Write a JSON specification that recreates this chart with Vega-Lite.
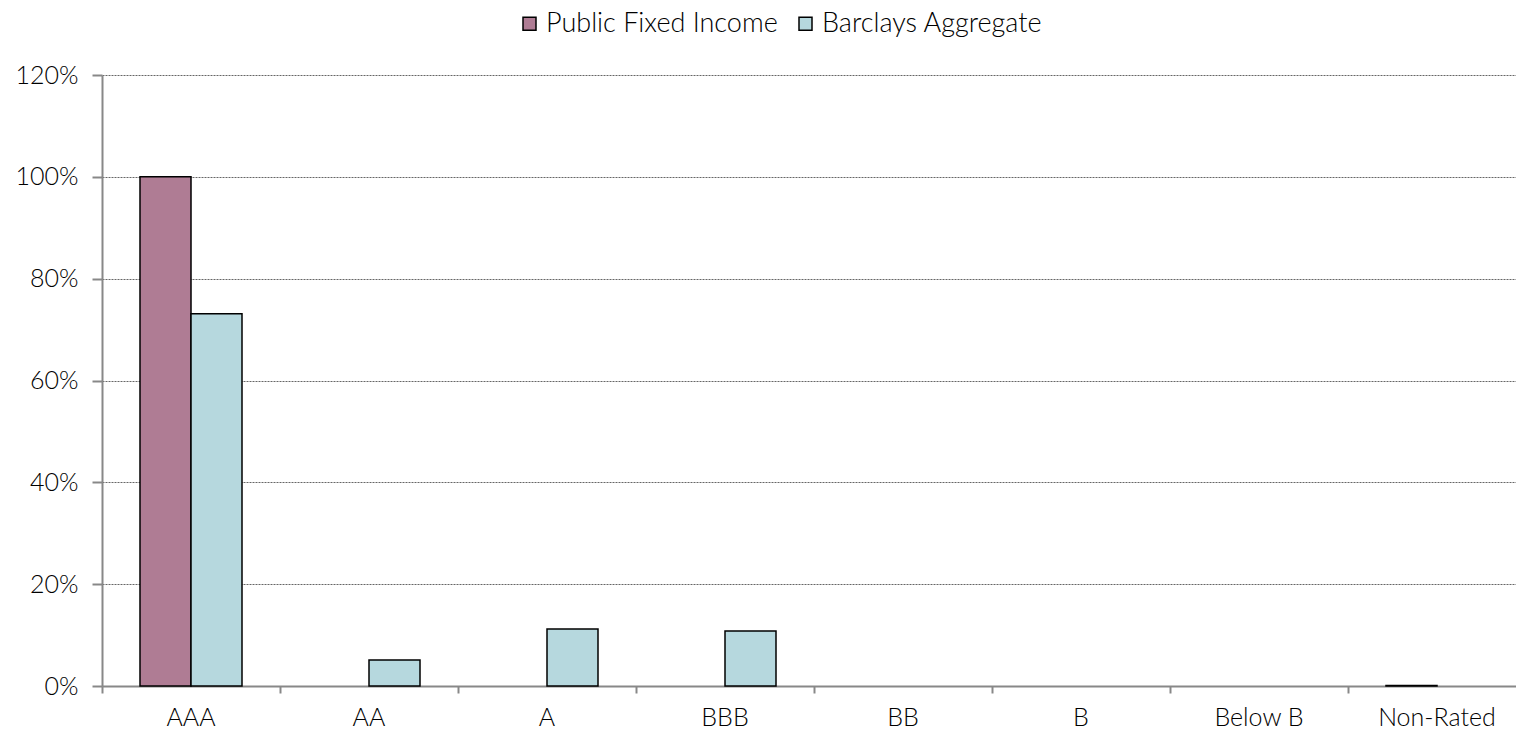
{
  "$schema": "https://vega.github.io/schema/vega-lite/v6.json",
  "autosize": {"type": "none"},
  "padding": {"left": 102, "top": 75, "right": -10, "bottom": 47},
  "width": 1424,
  "height": 611,
  "background": "white",
  "config": {
    "font": "Lato",
    "view": {"stroke": null}
  },
  "data": {
    "values": [
      {"rating": "AAA", "series": "Public Fixed Income", "share": 1.0},
      {"rating": "AAA", "series": "Barclays Aggregate", "share": 0.731},
      {"rating": "AA", "series": "Public Fixed Income", "share": 0},
      {"rating": "AA", "series": "Barclays Aggregate", "share": 0.051},
      {"rating": "A", "series": "Public Fixed Income", "share": 0},
      {"rating": "A", "series": "Barclays Aggregate", "share": 0.112},
      {"rating": "BBB", "series": "Public Fixed Income", "share": 0},
      {"rating": "BBB", "series": "Barclays Aggregate", "share": 0.108},
      {"rating": "BB", "series": "Public Fixed Income", "share": 0},
      {"rating": "BB", "series": "Barclays Aggregate", "share": 0},
      {"rating": "B", "series": "Public Fixed Income", "share": 0},
      {"rating": "B", "series": "Barclays Aggregate", "share": 0},
      {"rating": "Below B", "series": "Public Fixed Income", "share": 0},
      {"rating": "Below B", "series": "Barclays Aggregate", "share": 0},
      {"rating": "Non-Rated", "series": "Public Fixed Income", "share": 0.001},
      {"rating": "Non-Rated", "series": "Barclays Aggregate", "share": 0}
    ]
  },
  "transform": [{"filter": "datum.share > 0"}],
  "mark": {"type": "bar", "stroke": "#000000", "strokeWidth": 1.5},
  "encoding": {
    "x": {
      "field": "rating",
      "type": "nominal",
      "scale": {
        "domain": ["AAA", "AA", "A", "BBB", "BB", "B", "Below B", "Non-Rated"],
        "paddingInner": 0,
        "paddingOuter": 0
      },
      "axis": {
        "title": null,
        "labelAngle": 0,
        "bandPosition": 0,
        "labelFontSize": 25,
        "labelFontWeight": 300,
        "labelColor": "#000000",
        "labelPadding": 12,
        "domainColor": "#888888",
        "domainWidth": 2,
        "tickColor": "#888888",
        "tickWidth": 2,
        "tickSize": 7,
        "grid": false
      }
    },
    "xOffset": {
      "field": "series",
      "type": "nominal",
      "scale": {
        "domain": ["Public Fixed Income", "Barclays Aggregate"],
        "paddingInner": 0,
        "paddingOuter": 0.745
      }
    },
    "y": {
      "field": "share",
      "type": "quantitative",
      "scale": {"domain": [0, 1.2], "nice": false},
      "axis": {
        "title": null,
        "format": ".0%",
        "values": [0, 0.2, 0.4, 0.6, 0.8, 1.0, 1.2],
        "labelFontSize": 25,
        "labelFontWeight": 300,
        "labelColor": "#000000",
        "labelPadding": 14,
        "domainColor": "#888888",
        "domainWidth": 2,
        "tickColor": "#888888",
        "tickWidth": 2,
        "tickSize": 10,
        "gridColor": "#666666",
        "gridWidth": 1,
        "gridDash": [2, 1]
      }
    },
    "color": {
      "field": "series",
      "type": "nominal",
      "scale": {
        "domain": ["Public Fixed Income", "Barclays Aggregate"],
        "range": ["#AF7C94", "#B6D8DE"]
      },
      "legend": {
        "title": null,
        "orient": "none",
        "direction": "horizontal",
        "legendX": 414,
        "legendY": -65,
        "symbolType": "square",
        "symbolSize": 169,
        "symbolStrokeColor": "#000000",
        "symbolStrokeWidth": 1.5,
        "symbolOpacity": 1,
        "labelFontSize": 27,
        "labelFontWeight": 300,
        "labelLimit": 0,
        "labelColor": "#000000",
        "labelOffset": 3,
        "columnPadding": 14
      }
    }
  }
}
